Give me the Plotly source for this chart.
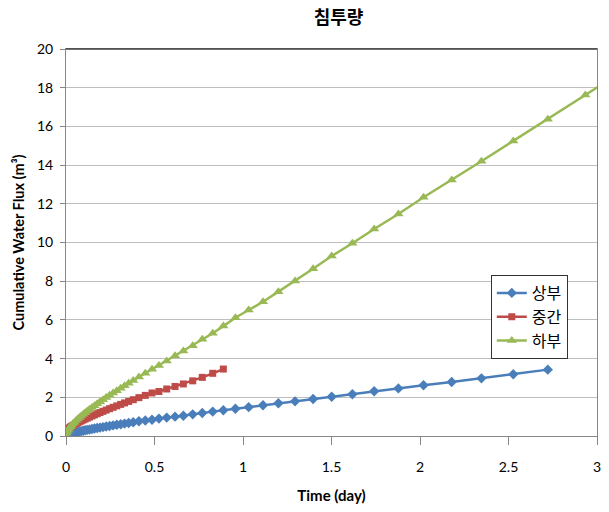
import plotly.graph_objects as go

time_day = [0, 0.003, 0.007, 0.012, 0.018, 0.025, 0.032, 0.04, 0.048, 0.057,
            0.066, 0.076, 0.086, 0.097, 0.108, 0.12, 0.133, 0.147, 0.161, 0.176,
            0.192, 0.209, 0.227, 0.246, 0.266, 0.287, 0.309, 0.331, 0.354, 0.38,
            0.412, 0.448, 0.486, 0.525, 0.569, 0.616, 0.663, 0.716, 0.77, 0.829,
            0.889, 0.957, 1.032, 1.113, 1.2, 1.294, 1.396, 1.501, 1.618, 1.741,
            1.878, 2.02, 2.179, 2.347, 2.527, 2.722, 2.934, 3.16]

upper = [0, 0.036, 0.056, 0.077, 0.096, 0.117, 0.136, 0.156, 0.174, 0.194,
         0.213, 0.233, 0.253, 0.274, 0.294, 0.315, 0.338, 0.362, 0.385, 0.41,
         0.435, 0.461, 0.489, 0.518, 0.547, 0.578, 0.611, 0.641, 0.674, 0.71,
         0.76, 0.80, 0.84, 0.90, 0.95, 1.0, 1.05, 1.12, 1.19, 1.26,
         1.33, 1.41, 1.49, 1.59, 1.69, 1.79, 1.91, 2.03, 2.16, 2.31,
         2.46, 2.62, 2.79, 2.98, 3.19, 3.43]

middle = [0.22, 0.278, 0.325, 0.37, 0.415, 0.464, 0.507, 0.552, 0.595, 0.641,
          0.686, 0.733, 0.779, 0.828, 0.875, 0.926, 0.98, 1.036, 1.092, 1.15,
          1.212, 1.275, 1.341, 1.411, 1.482, 1.556, 1.634, 1.709, 1.787, 1.875,
          1.982, 2.1, 2.224, 2.30, 2.43, 2.56, 2.69, 2.85, 3.03, 3.24,
          3.46]

lower = [0, 0.147, 0.234, 0.316, 0.398, 0.483, 0.559, 0.64, 0.716, 0.797,
         0.873, 0.955, 1.034, 1.119, 1.2, 1.286, 1.378, 1.474, 1.567, 1.665,
         1.767, 1.875, 1.986, 2.101, 2.22, 2.344, 2.472, 2.597, 2.726, 2.871,
         3.047, 3.241, 3.444, 3.649, 3.878, 4.15, 4.39, 4.67, 5.0, 5.31,
         5.68, 6.11, 6.51, 6.94, 7.46, 8.01, 8.64, 9.30, 9.96, 10.70,
         11.47, 12.34, 13.23, 14.20, 15.25, 16.37, 17.62, 18.97]

series_names = ["상부", "중간", "하부"]
x_ticks = [0, 0.5, 1, 1.5, 2, 2.5, 3]
x_tick_labels = ["0", "0.5", "1", "1.5", "2", "2.5", "3"]
y_ticks = [0, 2, 4, 6, 8, 10, 12, 14, 16, 18, 20]

fig = go.Figure()
styles = [
    ("#4A7EBB", "diamond", 8, upper),
    ("#BE4B48", "square", 7, middle),
    ("#98B954", "triangle-up", 9, lower),
]
for name, (color, symbol, size, vals) in zip(series_names, styles):
    fig.add_trace(go.Scatter(
        x=time_day[:len(vals)], y=vals, name=name, mode="lines+markers",
        line=dict(color=color, width=2.5),
        marker=dict(symbol=symbol, size=size, color=color),
        cliponaxis=True,
    ))

fig.update_layout(
    width=609, height=512,
    margin=dict(l=66, r=12, t=49, b=76, autoexpand=False),
    paper_bgcolor="white", plot_bgcolor="white",
    font=dict(family="Lato, 'Noto Sans CJK KR', sans-serif", size=14, color="#000"),
    title=dict(text="<b>침투량</b>", x=0.556, xanchor="center", y=0.965, yanchor="middle",
               font=dict(family="'Noto Sans CJK KR', sans-serif", size=18, color="#000")),
    showlegend=True,
    legend=dict(x=0.80, y=0.416, xanchor="left", yanchor="top",
                bgcolor="white", bordercolor="#333", borderwidth=1,
                font=dict(family="'Noto Sans CJK KR', sans-serif", size=16, color="#000"),
                tracegroupgap=0, itemwidth=30),
)
fig.update_xaxes(
    range=[0, 3], tickvals=x_ticks, ticktext=x_tick_labels,
    showgrid=False, zeroline=False,
    showline=True, linecolor="#868686", linewidth=1, mirror=True,
    ticks="outside", ticklen=8, tickcolor="#868686", ticklabelstandoff=10,
    title=dict(text="<b>Time (day)</b>", font=dict(size=15), standoff=16),
)
fig.update_yaxes(
    range=[0, 20], tickvals=y_ticks,
    showgrid=True, gridcolor="#BEBEBE", gridwidth=1, zeroline=False,
    showline=True, linecolor="#868686", linewidth=1, mirror=True,
    ticks="outside", ticklen=5, tickcolor="#868686", ticklabelstandoff=4,
    title=dict(text="<b>Cumulative Water Flux (m³)</b>", font=dict(size=14.5), standoff=8),
)
fig.add_shape(type="line", xref="paper", yref="paper", x0=0, x1=1, y0=1, y1=1,
              line=dict(color="#404040", width=1.5))

fig.write_html("out.html")
